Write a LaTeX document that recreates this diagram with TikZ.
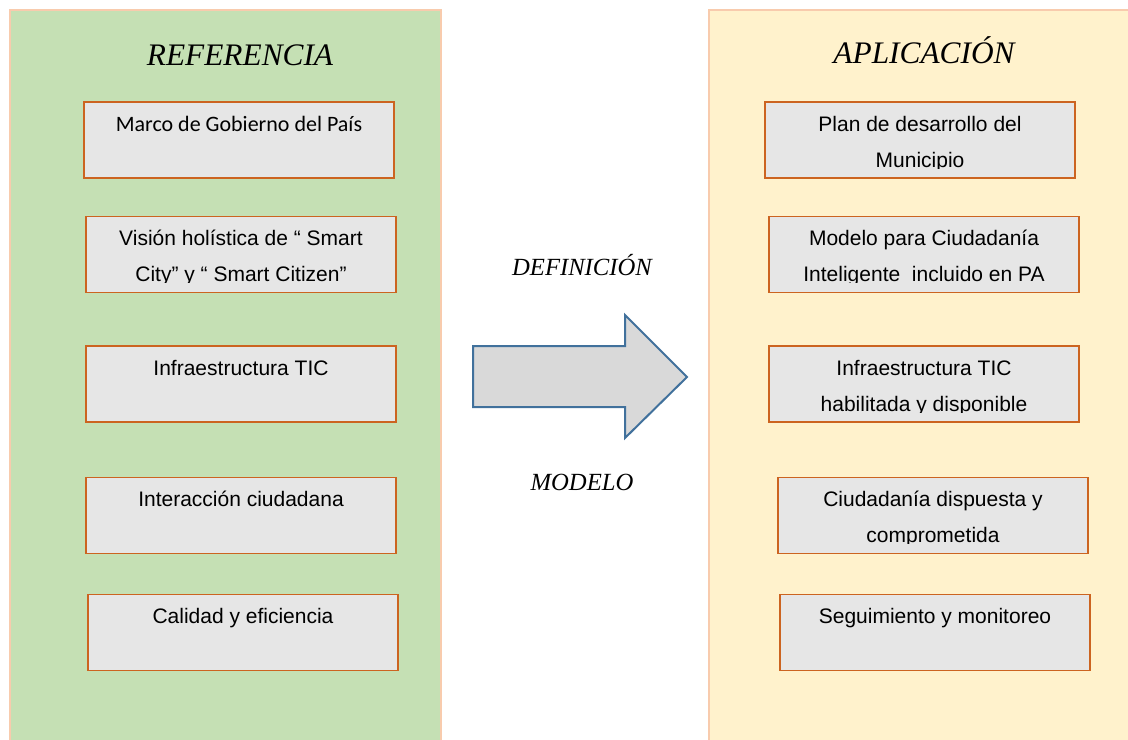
\documentclass[tikz,border=0pt]{standalone}
\usepackage{fontspec}
\setmainfont{Liberation Sans}
\newfontfamily\titulofont{Liberation Serif}
\newfontfamily\carlitofont{Carlito}
\definecolor{verdefondo}{HTML}{C5E0B4}
\definecolor{amarillofondo}{HTML}{FFF2CC}
\definecolor{bordepanel}{HTML}{F8CBAD}
\definecolor{griscaja}{HTML}{E6E6E6}
\definecolor{bordecaja}{HTML}{CC6420}
\definecolor{grisflecha}{HTML}{D9D9D9}
\definecolor{azulflecha}{HTML}{41719C}
\tikzset{
  panel/.style = {draw=bordepanel, line width=1.5pt},
  caja/.style = {draw=bordecaja, fill=griscaja, line width=1.3pt,
                 minimum width=232.5pt, minimum height=57pt, inner sep=0pt},
  textocaja/.style = {inner sep=0pt, align=center, anchor=north,
                      font=\fontsize{15.75}{27}\selectfont},
  titulo/.style = {anchor=base, font=\titulofont\itshape\fontsize{23.5}{23.5}\selectfont},
  subtitulo/.style = {anchor=base, font=\titulofont\itshape\fontsize{18.5}{18.5}\selectfont},
}
% box with its text clipped like the original
\newcommand{\ponercaja}[4][]{%
  \node[caja] (#2) at (#3) {};
  \begin{scope}
    \clip ([xshift=1pt]#2.north west) rectangle ([xshift=-1pt,yshift=8pt]#2.south east);
    \node[textocaja,#1] at ([yshift=-7.5pt]#2.north) {\rule{0pt}{15pt}#4};
  \end{scope}}
\begin{document}
\begin{tikzpicture}[x=0.75pt, y=-0.75pt]
  \useasboundingbox (0,0) rectangle (1128,739);
  % panels
  \filldraw[panel, fill=verdefondo]    (10,10)  rectangle (441,750);
  \filldraw[panel, fill=amarillofondo] (709,10) rectangle (1140,750);
  \node[titulo] (referencia) at (240,65) {REFERENCIA};
  \node[titulo] (aplicacion) at (924,63) {APLICACIÓN};
  % left column
  \ponercaja[font=\carlitofont\fontsize{16.5}{27}\selectfont]{ref1}{239,140}{Marco de Gobierno del País}
  \ponercaja{ref2}{241,254.5}{Visión holística de “ Smart\\City” y “ Smart Citizen”}
  \ponercaja{ref3}{241,384}{Infraestructura TIC}
  \ponercaja{ref4}{241,515.5}{Interacción ciudadana}
  \ponercaja{ref5}{243,632.5}{Calidad y eficiencia}
  % right column
  \ponercaja{apl1}{920,140}{Plan de desarrollo del\\Municipio}
  \ponercaja{apl2}{924,254.5}{Modelo para Ciudadanía\\Inteligente\ \ incluido en PA}
  \ponercaja{apl3}{924,384}{Infraestructura TIC\\habilitada y disponible}
  \ponercaja{apl4}{933,515.5}{Ciudadanía dispuesta y\\comprometida}
  \ponercaja{apl5}{935,632.5}{Seguimiento y monitoreo}
  % arrow
  \filldraw[fill=grisflecha, draw=azulflecha, line width=1.5pt]
    (473,346) -- (625,346) -- (625,315) -- (687,377) -- (625,438)
    -- (625,407) -- (473,407) -- cycle;
  \node[subtitulo] (definicion) at (582,275) {DEFINICIÓN};
  \node[subtitulo] (modelo) at (582,490) {MODELO};
\end{tikzpicture}
\end{document}
